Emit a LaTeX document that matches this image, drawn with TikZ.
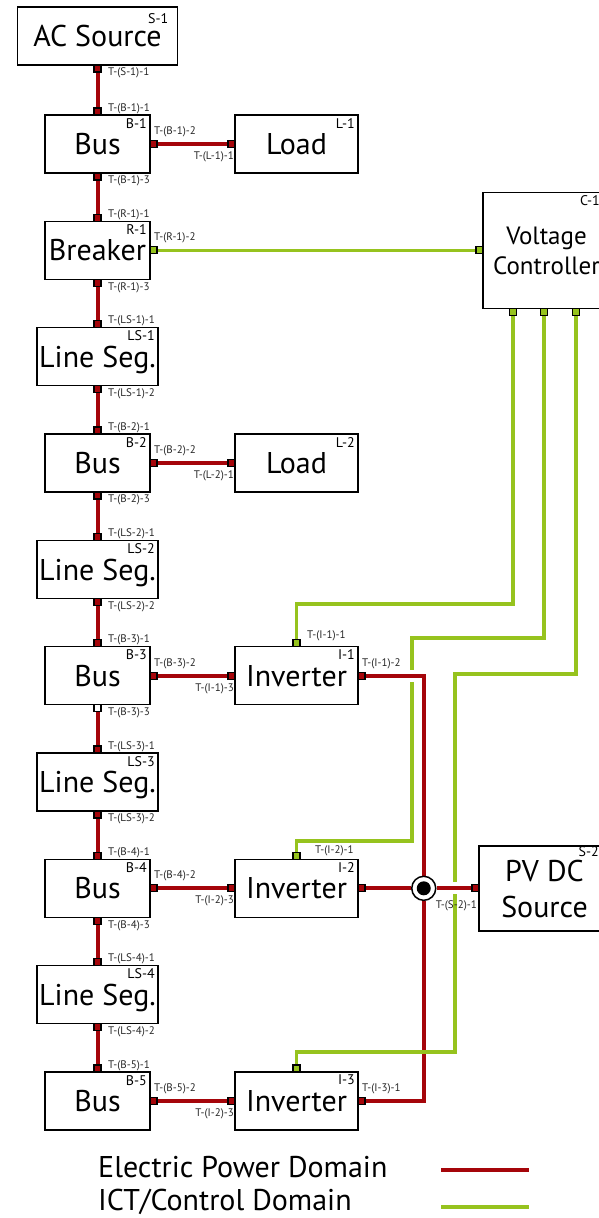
\documentclass[tikz,border=0pt]{standalone}
\usepackage{fontspec}
\setmainfont{PT Sans}
\usetikzlibrary{positioning,backgrounds}
\definecolor{pwred}{RGB}{165,5,10}
\definecolor{ictgreen}{RGB}{150,195,30}
\tikzset{
  blk/.style  ={rectangle, draw=black, line width=1.6pt, fill=white, minimum height=58pt,
                inner sep=0pt, outer sep=0pt, text depth=0pt, align=center, font=\fontsize{30}{31}\selectfont},
  idlab/.style={anchor=north east, inner sep=3pt, font=\fontsize{14}{15}\selectfont},
  tlab/.style ={inner sep=1pt, text=black!85, font=\fontsize{11}{12}\selectfont},
  tpow/.style ={rectangle, draw=black, line width=1.1pt, fill=pwred, minimum size=7pt, inner sep=0pt, outer sep=0pt},
  tict/.style ={tpow, fill=ictgreen},
  lbot/.style ={label={[tlab,anchor=west,xshift=6pt,yshift=-4.5pt]east:#1}},
  ltop/.style ={label={[tlab,anchor=west,xshift=6pt,yshift=3pt]east:#1}},
  lrgt/.style ={label={[tlab,anchor=south west,xshift=3pt,yshift=2.5pt]north west:#1}},
  llft/.style ={label={[tlab,anchor=north east,yshift=-3pt]south east:#1}},
  pline/.style={draw=pwred, line width=4pt},
  cline/.style={draw=ictgreen, line width=3.5pt},
  xover/.style={preaction={draw=white, line width=12pt}},
  jn/.style   ={circle, draw=black, line width=1.5pt, fill=white, minimum size=24pt, inner sep=0pt,
                path picture={\fill[black] (path picture bounding box.center) circle (7pt);}},
  legtext/.style={anchor=west, inner sep=0pt, font=\fontsize{30}{31}\selectfont},
}

\begin{document}
\begin{tikzpicture}[x=1pt, y=-1pt, node distance=48.33pt]
\useasboundingbox (0,0) rectangle (598,1218);

% main feeder
\node[blk, minimum width=160pt, label={[idlab,xshift=-6pt,yshift=-3pt]north east:S-1}] (src1) at (97.5,36) {AC Source};
\node[blk, minimum width=105pt, below=50pt of src1, label={[idlab]north east:B-1}] (bus1) {Bus};
\node[blk, minimum width=105pt, below=of bus1, label={[idlab]north east:R-1}] (brk1) {Breaker};
\node[blk, minimum width=121pt, below=of brk1, label={[idlab]north east:LS-1}] (ls1) {Line Seg.};
\node[blk, minimum width=105pt, below=of ls1, label={[idlab]north east:B-2}] (bus2) {Bus};
\node[blk, minimum width=121pt, below=of bus2, label={[idlab]north east:LS-2}] (ls2) {Line Seg.};
\node[blk, minimum width=105pt, below=of ls2, label={[idlab]north east:B-3}] (bus3) {Bus};
\node[blk, minimum width=121pt, below=of bus3, label={[idlab]north east:LS-3}] (ls3) {Line Seg.};
\node[blk, minimum width=105pt, below=of ls3, label={[idlab]north east:B-4}] (bus4) {Bus};
\node[blk, minimum width=121pt, below=of bus4, label={[idlab]north east:LS-4}] (ls4) {Line Seg.};
\node[blk, minimum width=105pt, below=of ls4, label={[idlab]north east:B-5}] (bus5) {Bus};

% loads and inverters
\node[blk, minimum width=123pt, right=85pt of bus1, label={[idlab]north east:L-1}] (load1) {Load};
\node[blk, minimum width=123pt, right=85pt of bus2, label={[idlab]north east:L-2}] (load2) {Load};
\node[blk, minimum width=123pt, right=85pt of bus3, label={[idlab]north east:I-1}] (inv1) {Inverter};
\node[blk, minimum width=123pt, right=85pt of bus4, label={[idlab]north east:I-2}] (inv2) {Inverter};
\node[blk, minimum width=123pt, right=85pt of bus5, label={[idlab]north east:I-3}] (inv3) {Inverter};

% controller and pv source
\coordinate (cx) at (546.5,0);
\node[blk, minimum width=127pt, minimum height=116pt, font=\fontsize{25}{30}\selectfont,
      label={[idlab,xshift=-7pt]north east:C-1}] (ctrl) at (cx |- brk1) {Voltage\\Controller};
\node[blk, minimum width=131pt, minimum height=85pt, font=\fontsize{30}{36}\selectfont, right=121pt of inv2,
      label={[idlab,inner sep=1pt,xshift=-10pt]north east:S-2}] (pv) {PV DC\\Source};

% terminals
\node[tpow, below=0pt of src1, lbot=T-(S-1)-1] (s1-1) {};
\node[tpow, above=0pt of bus1, ltop=T-(B-1)-1] (b1-1) {};
\node[tpow, right=0pt of bus1, lrgt=T-(B-1)-2] (b1-2) {};
\node[tpow, below=0pt of bus1, lbot=T-(B-1)-3] (b1-3) {};
\node[tpow, left=0pt of load1, llft=T-(L-1)-1] (l1-1) {};
\node[tpow, above=0pt of brk1, ltop=T-(R-1)-1] (r1-1) {};
\node[tict, right=0pt of brk1, lrgt=T-(R-1)-2] (r1-2) {};
\node[tpow, below=0pt of brk1, lbot=T-(R-1)-3] (r1-3) {};
\node[tpow, above=0pt of ls1, ltop=T-(LS-1)-1] (ls1-1) {};
\node[tpow, below=0pt of ls1, lbot=T-(LS-1)-2] (ls1-2) {};
\node[tpow, above=0pt of bus2, ltop=T-(B-2)-1] (b2-1) {};
\node[tpow, right=0pt of bus2, lrgt=T-(B-2)-2] (b2-2) {};
\node[tpow, below=0pt of bus2, lbot=T-(B-2)-3] (b2-3) {};
\node[tpow, left=0pt of load2, llft=T-(L-2)-1] (l2-1) {};
\node[tpow, above=0pt of ls2, ltop=T-(LS-2)-1] (ls2-1) {};
\node[tpow, below=0pt of ls2, lbot=T-(LS-2)-2] (ls2-2) {};
\node[tpow, above=0pt of bus3, ltop=T-(B-3)-1] (b3-1) {};
\node[tpow, right=0pt of bus3, lrgt=T-(B-3)-2] (b3-2) {};
\node[tpow, fill=white, below=0pt of bus3, lbot=T-(B-3)-3] (b3-3) {};
\node[tpow, left=0pt of inv1, llft=T-(I-1)-3] (i1-3) {};
\node[tict, above=0pt of inv1, label={[tlab,anchor=west,xshift=6pt,yshift=7pt]east:T-(I-1)-1}] (i1-1) {};
\node[tpow, right=0pt of inv1, lrgt=T-(I-1)-2] (i1-2) {};
\node[tpow, above=0pt of ls3, ltop=T-(LS-3)-1] (ls3-1) {};
\node[tpow, below=0pt of ls3, lbot=T-(LS-3)-2] (ls3-2) {};
\node[tpow, above=0pt of bus4, ltop=T-(B-4)-1] (b4-1) {};
\node[tpow, right=0pt of bus4, lrgt=T-(B-4)-2] (b4-2) {};
\node[tpow, below=0pt of bus4, lbot=T-(B-4)-3] (b4-3) {};
\node[tpow, left=0pt of inv2, llft=T-(I-2)-3] (i2-3) {};
\node[tict, above=0pt of inv2, label={[tlab,anchor=west,xshift=14pt,yshift=5pt]east:T-(I-2)-1}] (i2-1) {};
\node[tpow, right=0pt of inv2] (i2-2) {};
\node[tpow, above=0pt of ls4, ltop=T-(LS-4)-1] (ls4-1) {};
\node[tpow, below=0pt of ls4, lbot=T-(LS-4)-2] (ls4-2) {};
\node[tpow, above=0pt of bus5, ltop=T-(B-5)-1] (b5-1) {};
\node[tpow, right=0pt of bus5, lrgt=T-(B-5)-2] (b5-2) {};
\node[tpow, left=0pt of inv3, llft=T-(I-2)-3] (i3-3) {};
\node[tict, above=0pt of inv3] (i3-2) {};
\node[tpow, right=0pt of inv3, lrgt=T-(I-3)-1] (i3-1) {};
\node[tpow, left=0pt of pv, label={[tlab,anchor=north east,xshift=-1pt,yshift=-8pt]south east:T-(S-2)-1}] (s2-1) {};
\node[tict, left=0pt of ctrl] (c1-0) {};
\node[tict, below=0pt of ctrl, xshift=-33.5pt] (c1-1) {};
\node[tict, below=0pt of ctrl, xshift=-2.5pt] (c1-2) {};
\node[tict, below=0pt of ctrl, xshift=29.5pt] (c1-3) {};
\node[jn, right=46pt of i2-2] (junc) {};

% legend
\node[legtext] (legp) at (98,1167) {Electric Power Domain};
\node[legtext] (legc) at (98,1202) {ICT/Control Domain};
\coordinate (lp-a) at (441,1170); \coordinate (lp-b) at (529,1170);
\coordinate (lc-a) at (441,1207); \coordinate (lc-b) at (529,1207);

\begin{scope}[on background layer]
  % power links
  \draw[pline] (s1-1) -- (b1-1);
  \draw[pline] (b1-3) -- (r1-1);
  \draw[pline] (r1-3) -- (ls1-1);
  \draw[pline] (ls1-2) -- (b2-1);
  \draw[pline] (b2-3) -- (ls2-1);
  \draw[pline] (ls2-2) -- (b3-1);
  \draw[pline] (b3-3) -- (ls3-1);
  \draw[pline] (ls3-2) -- (b4-1);
  \draw[pline] (b4-3) -- (ls4-1);
  \draw[pline] (ls4-2) -- (b5-1);
  \draw[pline] (b1-2) -- (l1-1);
  \draw[pline] (b2-2) -- (l2-1);
  \draw[pline] (b3-2) -- (i1-3);
  \draw[pline] (b4-2) -- (i2-3);
  \draw[pline] (b5-2) -- (i3-3);
  % control links
  \draw[cline] (r1-2) -- (c1-0);
  \draw[cline] (c1-1) -- ++(0,292) -| (i1-1);
  \draw[cline] (c1-2) -- ++(0,326) -- ++(-132,0) -- ++(0,203) -| (i2-1);
  % dc side
  \draw[pline, xover] (i1-2) -| (junc);
  \draw[pline] (i2-2) -- (junc);
  \draw[pline] (i3-1) -| (junc);
  \draw[cline] (c1-3) -- ++(0,362) -- ++(-121,0) -- ++(0,378) -| (i3-2);
  \draw[pline, xover] (junc) -- (s2-1);
  % legend lines
  \draw[pline, line width=4.5pt] (lp-a) -- (lp-b);
  \draw[cline, line width=4pt] (lc-a) -- (lc-b);
\end{scope}
\end{tikzpicture}
\end{document}
